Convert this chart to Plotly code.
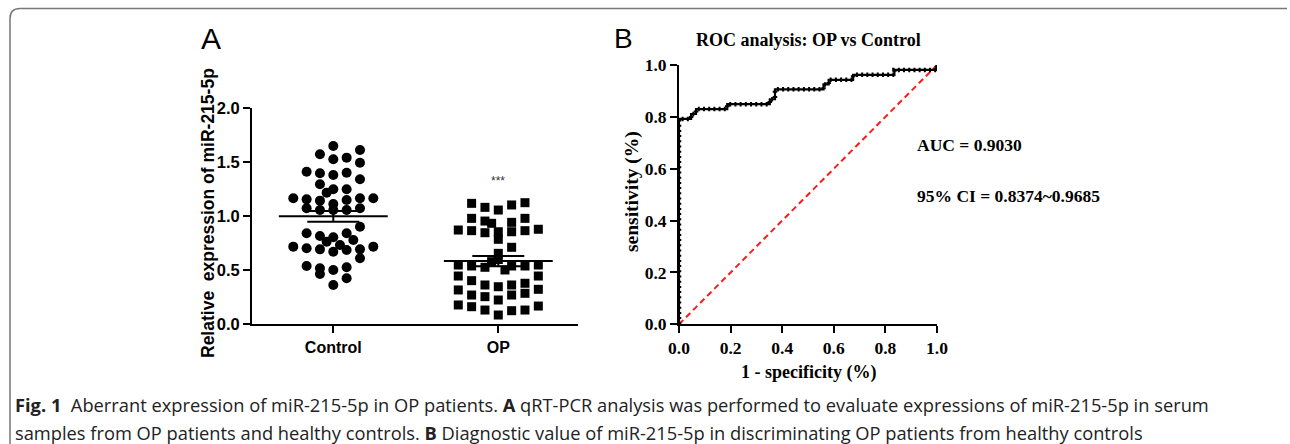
import plotly.graph_objects as go

W, H = 1290, 444

# ---------------- data: panel A ----------------
groups = ["Control", "OP"]
control_values = [1.651, 1.614, 1.574, 1.543, 1.528, 1.496, 1.413, 1.398, 1.382, 1.404,
                  1.343, 1.296, 1.250, 1.250, 1.219, 1.167, 1.157, 1.145, 1.114, 1.151,
                  1.167, 1.167, 1.074, 1.058, 1.058, 1.058, 1.074, 0.904, 0.843, 0.818,
                  0.806, 0.843, 0.765, 0.734, 0.780, 0.719, 0.704, 0.694, 0.672, 0.688,
                  0.694, 0.719, 0.611, 0.540, 0.518, 0.466, 0.503, 0.528, 0.426, 0.364]
control_slots = [0, 4, -2, 2, 0, 4, -4, -2, 0, 2,
                 4, -2, 0, 2, -1, -6, -4, -2, 0, 2,
                 4, 6, -4, -2, 0, 2, 4, 4, -4, -2,
                 0, 2, -1, 1, 3, -6, -4, -2, 0, 2,
                 4, 6, 4, -4, -2, -2, 0, 2, 2, 0]
op_values = [1.120, 1.083, 1.058, 1.105, 1.126, 0.981, 0.956, 0.935, 0.944, 0.981,
             0.873, 0.867, 0.848, 0.857, 0.857, 0.867, 0.880, 0.787, 0.713, 0.657,
             0.549, 0.540, 0.528, 0.580, 0.600, 0.503, 0.540, 0.540, 0.549, 0.447,
             0.447, 0.404, 0.364, 0.348, 0.364, 0.380, 0.318, 0.324, 0.271, 0.256,
             0.225, 0.271, 0.287, 0.179, 0.163, 0.132, 0.086, 0.126, 0.132, 0.169]
op_slots = [-4, -2, 0, 2, 4, -4, -2, -1, 2, 4,
            -6, -4, -2, 0, 2, 4, 6, 0, 2, 0,
            -6, -4, -2, -1, 0, 1, 2, 4, 6, -6,
            6, -4, -2, 0, 2, 4, -6, 6, -4, -2,
            0, 2, 4, -6, -4, -2, 0, 2, 4, 6]
group_means = [1.000, 0.585]
group_sems = [0.050, 0.048]
a_yticks = [0.0, 0.5, 1.0, 1.5, 2.0]

# ---------------- data: panel B ----------------
roc_fpr = [0, 0, 0.047, 0.047, 0.066, 0.066, 0.187, 0.187, 0.352, 0.352, 0.372, 0.372,
           0.560, 0.560, 0.580, 0.580, 0.675, 0.675, 0.835, 0.835, 1.0, 1.0]
roc_tpr = [0, 0.792, 0.792, 0.811, 0.811, 0.830, 0.830, 0.849, 0.849, 0.868, 0.868, 0.906,
           0.906, 0.925, 0.925, 0.943, 0.943, 0.962, 0.962, 0.981, 0.981, 1.0]
ref_x = [0, 1]
ref_y = [0, 1]
b_ticks = [0.0, 0.2, 0.4, 0.6, 0.8, 1.0]
auc_text = "AUC = 0.9030"
ci_text = "95% CI = 0.8374~0.9685"


def px(x):
    return x / W


def py(y):
    return 1 - y / H


def bold_labels(vals):
    return [f"<b>{v:.1f}</b>" for v in vals]


SLOT = 6.67 / 165.0  # x-units per slot

fig = go.Figure()

# Panel A scatter
fig.add_trace(go.Scatter(
    x=[0 + s * SLOT for s in control_slots], y=control_values, mode="markers",
    marker=dict(symbol="circle", size=10, color="black"),
    xaxis="x", yaxis="y", cliponaxis=False, showlegend=False))
fig.add_trace(go.Scatter(
    x=[1 + s * SLOT for s in op_slots], y=op_values, mode="markers",
    marker=dict(symbol="square", size=9, color="black"),
    xaxis="x", yaxis="y", cliponaxis=False, showlegend=False))

for i, (m, s) in enumerate(zip(group_means, group_sems)):
    fig.add_trace(go.Scatter(
        x=[i - 0.33, i + 0.33], y=[m, m], mode="lines",
        line=dict(color="black", width=2), xaxis="x", yaxis="y", showlegend=False))
    fig.add_trace(go.Scatter(
        x=[i], y=[m], mode="markers", marker=dict(size=1, color="rgba(0,0,0,0)"),
        error_y=dict(type="data", array=[s], visible=True, color="black",
                     thickness=2, width=26),
        xaxis="x", yaxis="y", showlegend=False))

# Panel B ROC
fig.add_trace(go.Scatter(
    x=ref_x, y=ref_y, mode="lines",
    line=dict(color="#ff1a1a", width=2, dash="6px,4px"),
    xaxis="x2", yaxis="y2", cliponaxis=False, showlegend=False))
fig.add_trace(go.Scatter(
    x=roc_fpr, y=roc_tpr, mode="lines",
    line=dict(color="black", width=2.2),
    xaxis="x2", yaxis="y2", cliponaxis=False, showlegend=False))
fig.add_trace(go.Scatter(
    x=roc_fpr, y=roc_tpr, mode="lines",
    line=dict(color="black", width=4.5, dash="2px,3.2px"),
    xaxis="x2", yaxis="y2", cliponaxis=False, showlegend=False))

arial = "Arial, Liberation Sans, sans-serif"
times = "Times New Roman, Liberation Serif, serif"

ax_common = dict(showline=True, linewidth=2, linecolor="black", ticks="outside",
                 tickwidth=2, ticklen=7, tickcolor="black", showgrid=False,
                 zeroline=False, fixedrange=True, automargin=False)

xa0, xa1 = 252, 578
cx0, cx1 = 333.3, 498.3
unit = cx1 - cx0
fig.update_layout(
    width=W, height=H, margin=dict(l=0, r=0, t=0, b=0, pad=0, autoexpand=False),
    paper_bgcolor="white", plot_bgcolor="white",
    xaxis=dict(domain=[px(xa0), px(xa1)],
               range=[-(cx0 - xa0) / unit, 1 + (xa1 - cx1) / unit],
               tickvals=[0, 1], ticktext=[f"<b>{g}</b>" for g in groups],
               tickfont=dict(family=arial, size=16, color="black"),
               anchor="y", **ax_common),
    yaxis=dict(domain=[py(324.3), py(108.3)], range=[0, 2],
               tickvals=a_yticks, ticktext=bold_labels(a_yticks),
               tickfont=dict(family=arial, size=16.5, color="black"),
               anchor="x", **ax_common),
    xaxis2=dict(domain=[px(679), px(937)], range=[0, 1],
                tickvals=b_ticks, ticktext=bold_labels(b_ticks),
                tickfont=dict(family=times, size=17.5, color="black"),
                anchor="y2", **ax_common),
    yaxis2=dict(domain=[py(324.3), py(65)], range=[0, 1],
                tickvals=b_ticks, ticktext=bold_labels(b_ticks),
                tickfont=dict(family=times, size=17.5, color="black"),
                anchor="x2", **ax_common),
)

ann = []


def text(x, y, s, size, family, bold=False, angle=0, xanchor="center", color="black"):
    ann.append(dict(x=px(x), y=py(y), xref="paper", yref="paper", text=(f"<b>{s}</b>" if bold else s),
                    showarrow=False, xanchor=xanchor, yanchor="middle", textangle=angle,
                    font=dict(family=family, size=size, color=color)))


text(211, 39, "A", 30, arial)
text(623, 38, "B", 28, arial)
text(208, 213, "Relative&nbsp;&nbsp;expression of miR-215-5p", 17.5, arial, bold=True, angle=-90)
text(498.3, 181, "***", 12, arial, color="#333")
text(808, 40, "ROC analysis: OP vs Control", 18, times, bold=True)
text(632, 192, "sensitivity (%)", 19.5, times, bold=True, angle=-90)
text(808, 372, "1 - specificity (%)", 18, times, bold=True)
text(915, 145, auc_text, 17.5, times, bold=True, xanchor="left")
text(915, 196, ci_text, 17.5, times, bold=True, xanchor="left")

cap_font = "Open Sans, Noto Sans, sans-serif"
ann.append(dict(x=px(13), y=py(404), xref="paper", yref="paper", showarrow=False,
                xanchor="left", yanchor="middle",
                text="<b>Fig. 1</b>&nbsp;&nbsp;Aberrant expression of miR-215-5p in OP patients. <b>A</b> qRT-PCR analysis was performed to evaluate expressions of miR-215-5p in serum",
                font=dict(family=cap_font, size=18.3, color="#222")))
ann.append(dict(x=px(13), y=py(432), xref="paper", yref="paper", showarrow=False,
                xanchor="left", yanchor="middle",
                text="samples from OP patients and healthy controls. <b>B</b> Diagnostic value of miR-215-5p in discriminating OP patients from healthy controls",
                font=dict(family=cap_font, size=18.3, color="#222")))
fig.update_layout(annotations=ann)

# outer rounded frame
L, T, R, B, r = 10, 8.5, 1287, 460, 10
path = (f"M {px(L)},{py(B)} L {px(L)},{py(T + r)} Q {px(L)},{py(T)} {px(L + r)},{py(T)} "
        f"L {px(R)},{py(T)}")
fig.add_shape(type="path", path=path, xref="paper", yref="paper",
              line=dict(color="#777777", width=1.5))

fig.write_html("out.html", config={"displayModeBar": False},
               post_script="document.body.style.margin='0';document.body.style.overflow='hidden';")
